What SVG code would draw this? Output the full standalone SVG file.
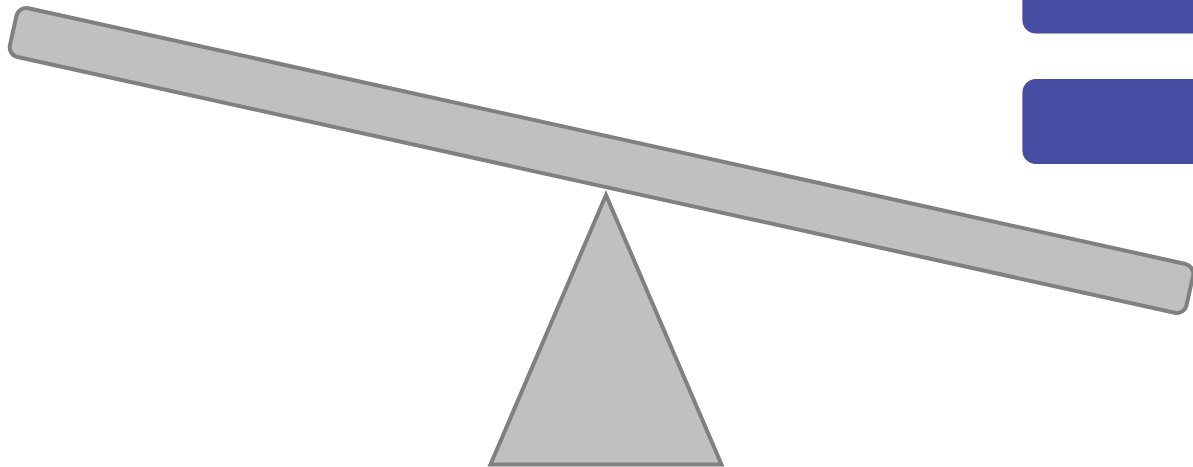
<svg xmlns="http://www.w3.org/2000/svg" width="1193" height="467" viewBox="0 0 1193 467">
  <style>
    .wood { fill: #c0c0c0; stroke: #808080; stroke-width: 4; }
    .box { fill: #464da3; stroke: #4a4a92; stroke-width: 1.2; }
  </style>
  <rect width="1193" height="467" fill="#ffffff"/>
  <g id="box-top">
    <rect class="box" x="1023" y="-40" width="200" height="73" rx="13"/>
  </g>
  <g id="box-bottom">
    <rect class="box" x="1023" y="79.5" width="200" height="84" rx="13"/>
  </g>
  <g id="fulcrum">
    <polygon class="wood" points="606,195 490.5,464.5 721.5,464.5"/>
  </g>
  <g id="plank">
    <rect class="wood" x="-602.5" y="-25" width="1205" height="50" rx="10" transform="translate(601.5 160.5) rotate(12.46)"/>
  </g>
  <g id="connectors"/>
</svg>
